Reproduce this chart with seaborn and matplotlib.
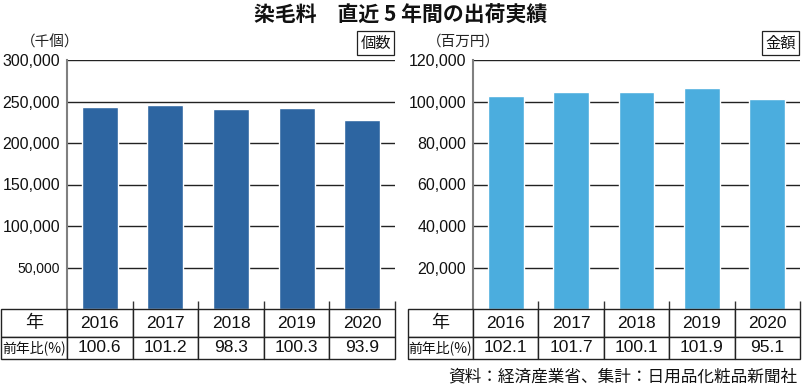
import matplotlib
matplotlib.use("Agg")
import matplotlib.pyplot as plt
import seaborn as sns
import pandas as pd
from matplotlib.ticker import FixedLocator, FuncFormatter

# ── data ─────────────────────────────────────────────────────────────────────
years      = ["2016", "2017", "2018", "2019", "2020"]
qty_values = [242800, 245700, 241500, 242200, 227400]   # 千個
qty_ratio  = ["100.6", "101.2", "98.3", "100.3", "93.9"]
amt_values = [102700, 104400, 104500, 106400, 101200]   # 百万円
amt_ratio  = ["102.1", "101.7", "100.1", "101.9", "95.1"]

qty_ticks = [50000, 100000, 150000, 200000, 250000, 300000]
amt_ticks = [20000, 40000, 60000, 80000, 100000, 120000]

sns.set_theme(style="white")
plt.rcParams["font.family"] = ["Liberation Sans", "Noto Sans CJK JP", "DejaVu Sans"]
JP = ["Noto Sans CJK JP", "DejaVu Sans"]

W, H = 802, 387
fig = plt.figure(figsize=(W / 100, H / 100), dpi=100)


def px_axes(x0, y0, x1, y1):
    # pixel box, origin top-left
    return fig.add_axes([x0 / W, 1 - y1 / H, (x1 - x0) / W, (y1 - y0) / H])


def ftext(x, y, s, **kw):
    return fig.text(x / W, 1 - y / H, s, **kw)


def panel(x0, x1, values, ratios, ticks, color, unit, tag, small_first=False):
    col_w = (x1 - x0) / len(years)

    # ── bars ──
    ax = px_axes(x0, 60, x1, 309)
    ax.set_axisbelow(True)
    df = pd.DataFrame({"year": years, "value": values})
    sns.barplot(data=df, x="year", y="value", color=color, saturation=1,
                width=0.55, ax=ax)
    ax.set_xlim(-0.5, len(years) - 0.5)
    ax.set_ylim(0, ticks[-1])
    ax.yaxis.set_major_locator(FixedLocator(ticks))
    ax.yaxis.set_major_formatter(FuncFormatter(lambda v, p: f"{int(v):,}"))
    ax.grid(axis="y", color="#222222", linewidth=1.0)
    ax.grid(axis="x", visible=False)
    ax.set_xlabel("")
    ax.set_ylabel("")
    for s in ("top", "right", "bottom"):
        ax.spines[s].set_visible(False)
    ax.spines["left"].set_color("#808080")
    ax.spines["left"].set_linewidth(1.5)
    ax.tick_params(axis="y", length=0, pad=5, labelsize=11.5, labelcolor="#111111")
    ax.tick_params(axis="x", which="major", length=0, labelbottom=False)
    ax.set_xticks([i + 0.5 for i in range(len(years))], minor=True)
    ax.tick_params(axis="x", which="minor", direction="in", length=6,
                   width=1, color="#333333", bottom=True)
    if small_first:
        ax.get_yticklabels()[0].set_fontsize(10)

    # ── unit / tag ──
    ftext(x0 - 46, 42, unit, ha="left", va="center", fontsize=10.5,
          family=JP, color="#222222")
    ftext(x1 - 4, 43, tag, ha="right", va="center", fontsize=11,
          family=JP, color="#111111",
          bbox=dict(boxstyle="square,pad=0.2", fc="white", ec="#222222", lw=0.9))

    # ── table ──
    tax = px_axes(x0 - col_w, 309, x1, 359)
    tax.axis("off")
    tb = tax.table(cellText=[["年"] + years, ["前年比(%)"] + ratios],
                   cellLoc="center", bbox=[0, 0, 1, 1])
    tb.auto_set_font_size(False)
    for (r, c), cell in tb.get_celld().items():
        cell.set_height(28 if r == 0 else 22)
        cell.set_linewidth(1.0)
        cell.set_edgecolor("#222222")
        t = cell.get_text()
        t.set_color("#111111")
        if c == 0:
            t.set_fontfamily(JP)
            t.set_fontsize(13 if r == 0 else 10)
        else:
            t.set_fontsize(12.5)
    return ax


panel(67, 395, qty_values, qty_ratio, qty_ticks, "#2d65a1", "（千個）", "個数",
      small_first=True)
panel(473, 800, amt_values, amt_ratio, amt_ticks, "#4badde", "（百万円）", "金額")

ftext(401, 15, "染毛料　直近 5 年間の出荷実績", ha="center", va="center",
      fontsize=15, fontweight="bold", family=JP, color="#111111")
ftext(797, 377, "資料：経済産業省、集計：日用品化粧品新聞社", ha="right",
      va="center", fontsize=12, family=JP, color="#111111")

fig.savefig("out.png", dpi=100)
